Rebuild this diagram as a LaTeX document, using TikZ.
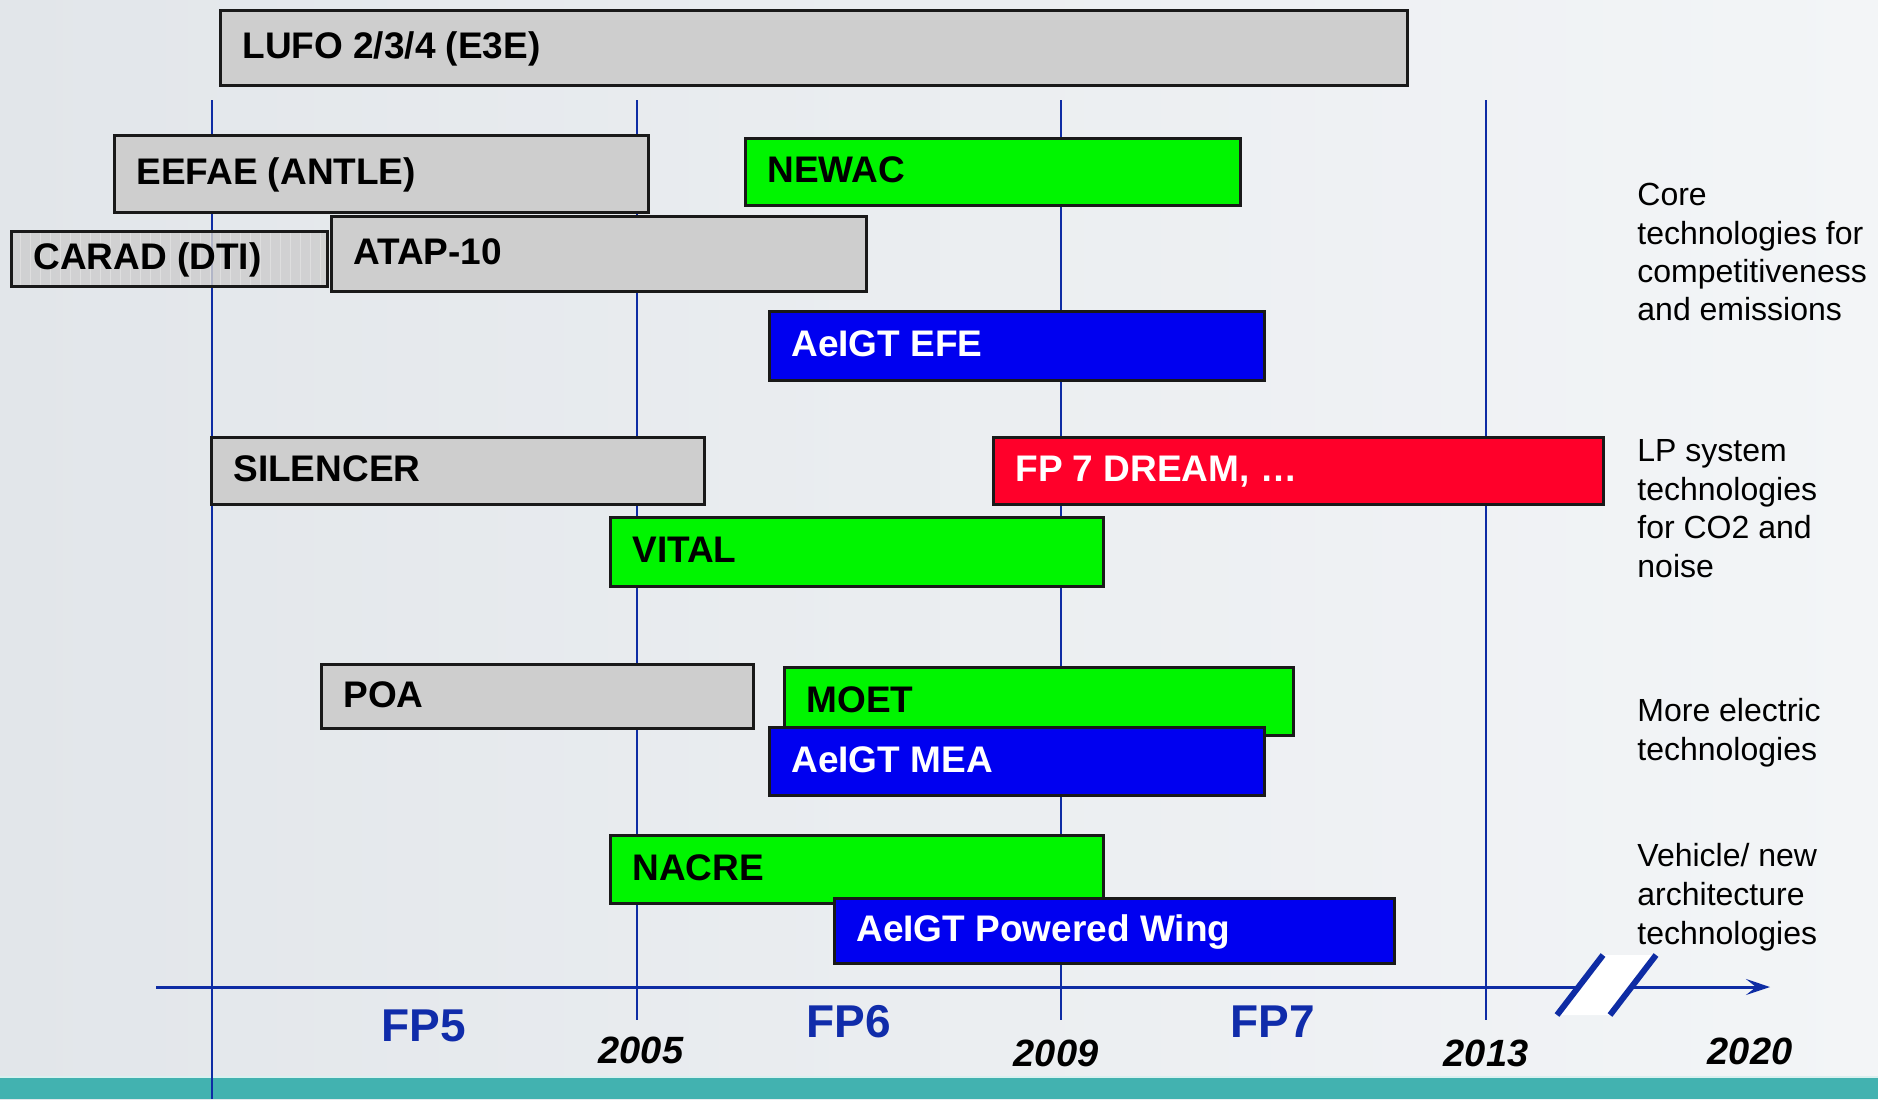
\documentclass[tikz,border=0pt]{standalone}
\usepackage{fontspec}
\setmainfont{Liberation Sans}
\usetikzlibrary{arrows.meta}
\definecolor{bgL}{RGB}{226,230,234}
\definecolor{bgR}{RGB}{243,245,247}
\definecolor{boxgray}{RGB}{206,206,206}
\definecolor{gridgray}{RGB}{222,222,222}
\definecolor{boxgreen}{RGB}{0,245,0}
\definecolor{boxblue}{RGB}{0,0,240}
\definecolor{boxred}{RGB}{255,0,42}
\definecolor{lineblue}{RGB}{14,44,164}
\definecolor{fpblue}{RGB}{16,44,170}
\definecolor{tealbar}{RGB}{66,178,176}
\definecolor{edge}{RGB}{25,25,25}
\newcommand\tlbox[8]{%
  \path[#1] (#4,#5) rectangle (#6,#7);
  \node[boxlabel, text=#2, anchor=base west] (#3) at ({#4+22},{(#5+#7)/2+11}) {#8};}
\begin{document}
\begin{tikzpicture}[x=0.5pt,y=-0.5pt,
  gbox/.style={fill=boxgray, draw=edge, line width=1.5pt},
  grbox/.style={fill=boxgreen, draw=edge, line width=1.5pt},
  blbox/.style={fill=boxblue, draw=edge, line width=1.5pt},
  rdbox/.style={fill=boxred, draw=edge, line width=1.5pt},
  boxlabel/.style={inner sep=0pt, font=\fontsize{18.5}{22}\selectfont\bfseries},
  vline/.style={draw=lineblue, line width=1.4pt},
  axisline/.style={draw=lineblue, line width=1.5pt},
  brk/.style={draw=lineblue, line width=3pt},
  fplabel/.style={inner sep=0pt, text=fpblue, font=\fontsize{23}{27}\selectfont\bfseries},
  yrlabel/.style={inner sep=0pt, font=\fontsize{19}{23}\selectfont\bfseries\itshape},
  sidetext/.style={inner sep=0pt, anchor=base west, font=\fontsize{16}{19.5}\selectfont}]
\useasboundingbox (0,0) rectangle (1878,1099);
% background
\shade[left color=bgL, right color=bgR] (0,0) rectangle (1878,1099);
\fill[tealbar] (0,1078) rectangle (1878,1099);
\draw[white!80!tealbar, line width=0.6pt] (0,1077) -- (1878,1077);
% vertical year lines
\coordinate (v1t) at (212,100); \coordinate (v1b) at (212,1099);
\coordinate (v2t) at (637,100); \coordinate (v2b) at (637,1020);
\coordinate (v3t) at (1061,100); \coordinate (v3b) at (1061,1020);
\coordinate (v4t) at (1486,100); \coordinate (v4b) at (1486,1020);
\draw[vline] (v1t) -- (v1b);
\draw[vline] (v2t) -- (v2b);
\draw[vline] (v3t) -- (v3b);
\draw[vline] (v4t) -- (v4b);
% time axis
\coordinate (ax0) at (156,987); \coordinate (ax1) at (1770,987);
\draw[axisline, -{Stealth[length=12pt,width=8pt,inset=5pt]}] (ax0) -- (ax1);
% axis break
\fill[white] (1557,1015) -- (1603,955) -- (1656,955) -- (1610,1015) -- cycle;
\draw[brk] (1557,1015) -- (1603,955);
\draw[brk] (1610,1015) -- (1656,955);
% boxes
\tlbox{gbox}{black}{lufo}{220}{10}{1407}{85}{LUFO 2/3/4 (E3E)}
\tlbox{gbox}{black}{eefae}{114}{135}{648}{212}{EEFAE (ANTLE)}
\tlbox{grbox}{black}{newac}{745}{138}{1240}{205}{NEWAC}
\tlbox{gbox}{black}{atap}{331}{216}{866}{291}{ATAP-10}
% CARAD with grid texture, slightly transparent
\begin{scope}
\clip (11,231) rectangle (327,286);
\fill[boxgray, fill opacity=0.85] (11,231) rectangle (327,286);
\draw[gridgray, line width=0.4pt, step=10] (0,220) grid (340,300);
\end{scope}
\draw[edge, line width=1.5pt] (11,231) rectangle (327,286);
\node[boxlabel, anchor=base west] (carad) at (33,{(231+286)/2+11}) {CARAD (DTI)};
\tlbox{blbox}{white}{efe}{769}{311}{1264}{380}{AeIGT EFE}
\tlbox{gbox}{black}{silencer}{211}{437}{704}{504}{SILENCER}
\tlbox{rdbox}{white}{dream}{993}{437}{1603}{504}{FP 7 DREAM, \dots}
\tlbox{grbox}{black}{vital}{610}{517}{1103}{586}{VITAL}
\tlbox{gbox}{black}{poa}{321}{664}{753}{728}{POA}
\tlbox{grbox}{black}{moet}{784}{667}{1293}{735}{MOET}
\tlbox{blbox}{white}{mea}{769}{727}{1264}{795}{AeIGT MEA}
\tlbox{grbox}{black}{nacre}{610}{835}{1103}{903}{NACRE}
\tlbox{blbox}{white}{pwing}{834}{898}{1394}{963}{AeIGT Powered Wing}
% axis labels
\node[fplabel, anchor=base] (fp5) at (424,1041) {FP5};
\node[fplabel, anchor=base] (fp6) at (849,1037) {FP6};
\node[fplabel, anchor=base] (fp7) at (1273,1037) {FP7};
\node[yrlabel, anchor=base] (y2005) at (641,1063) {2005};
\node[yrlabel, anchor=base] (y2009) at (1056,1066) {2009};
\node[yrlabel, anchor=base] (y2013) at (1486,1066) {2013};
\node[yrlabel, anchor=base] (y2020) at (1750,1064) {2020};
% side texts
\node[sidetext] (c1) at (1637,205) {Core};
\node[sidetext] (c2) at (1637,244) {technologies for};
\node[sidetext] (c3) at (1637,282) {competitiveness};
\node[sidetext] (c4) at (1637,320) {and emissions};
\node[sidetext] (l1) at (1637,461) {LP system};
\node[sidetext] (l2) at (1637,500) {technologies};
\node[sidetext] (l3) at (1637,538) {for CO2 and};
\node[sidetext] (l4) at (1637,577) {noise};
\node[sidetext] (m1) at (1637,721) {More electric};
\node[sidetext] (m2) at (1637,760) {technologies};
\node[sidetext] (n1) at (1637,866) {Vehicle/ new};
\node[sidetext] (n2) at (1637,905) {architecture};
\node[sidetext] (n3) at (1637,944) {technologies};
\end{tikzpicture}
\end{document}
